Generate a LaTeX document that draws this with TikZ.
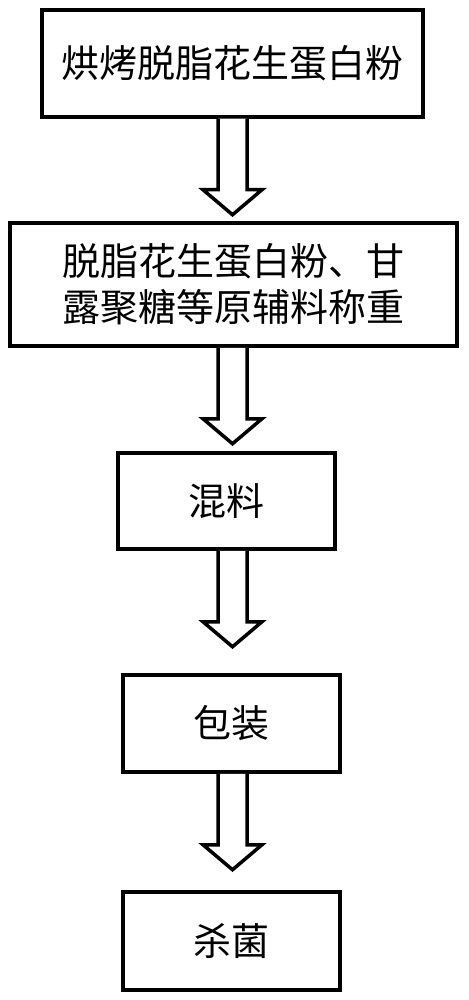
\documentclass[tikz,border=0pt]{standalone}
\usepackage{fontspec}
\newfontfamily\cjk{Noto Sans CJK SC}
\usetikzlibrary{calc}
\tikzset{
  procbox/.style={draw, line width=3.5pt, rectangle, inner sep=0pt, align=center,
    font=\cjk\fontsize{38}{46}\selectfont, text=black},
  hollow/.style={draw, line width=3.5pt, line join=miter, fill=white}
}
% hollow block arrow leaving node #1 downwards, pointing at node #2, on the common axis
\newcommand\hollowarrow[2]{%
  \draw[hollow] ($(#1.south -| axis)+(-14.5,0)$) -- ++(0,71) -- ++(-15,0)
    -- ++(29.5,25) coordinate (tip-#2) -- ++(29.5,-25) -- ++(-15,0) -- ++(0,-71);%
}
\begin{document}
\begin{tikzpicture}[x=1pt,y=-1pt]
\useasboundingbox (0,0) rectangle (468,1000);
\coordinate (axis) at (232.5,0);
\node[procbox, minimum width=381pt, minimum height=107pt] (b1) at (232.5,63.5) {烘烤脱脂花生蛋白粉};
\node[procbox, minimum width=447pt, minimum height=123pt] (b2) at (233.5,284.5) {脱脂花生蛋白粉、甘\\露聚糖等原辅料称重};
\node[procbox, minimum width=217pt, minimum height=96pt] (b3) at (226.5,501) {混料};
\node[procbox, minimum width=217pt, minimum height=97pt] (b4) at (231.5,723.5) {包装};
\node[procbox, minimum width=217pt, minimum height=98pt] (b5) at (231.5,941) {杀菌};
\hollowarrow{b1}{b2}
\hollowarrow{b2}{b3}
\hollowarrow{b3}{b4}
\hollowarrow{b4}{b5}
\end{tikzpicture}
\end{document}
